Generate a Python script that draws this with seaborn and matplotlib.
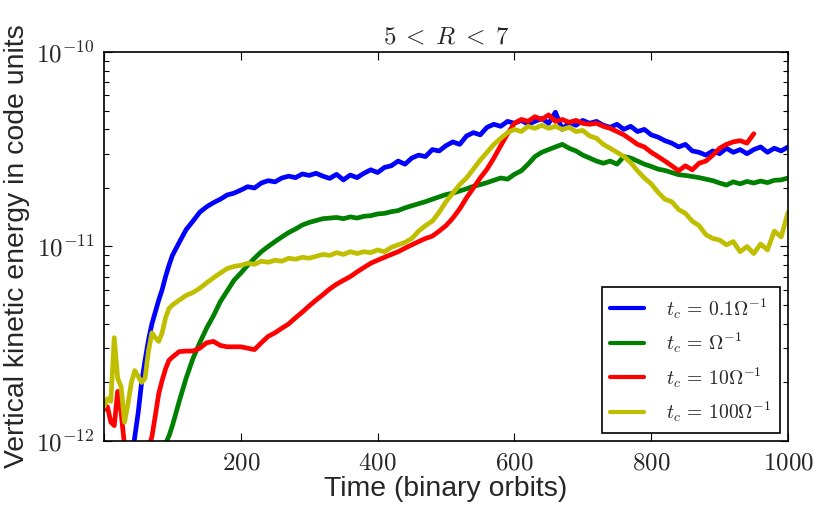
import numpy as np
import pandas as pd
import matplotlib
matplotlib.use("Agg")
import matplotlib.pyplot as plt
import matplotlib.ticker as mticker
import seaborn as sns

# time grid (binary orbits)
time = list(range(0, 100, 5)) + list(range(100, 1001, 10))

# vertical kinetic energy, in units of 1e-12 (code units)
blue_01 = [0.2, 0.22, 0.25, 0.28, 0.32, 0.38, 0.46, 0.6, 0.78, 1.05,
           1.4, 2.0, 2.6, 3.3, 4.0, 4.6, 5.3, 6.0, 7.0, 8.0,
           9.0, 10.5, 12.2, 13.5, 15.0, 16.0, 16.8, 17.5, 18.4, 18.8,
           19.5, 20.3, 20.0, 21.2, 21.8, 21.5, 22.5, 23.0, 22.6, 23.6,
           23.2, 23.8, 23.0, 22.4, 23.5, 22.0, 23.3, 22.6, 23.8, 24.8,
           24.0, 25.5, 26.0, 27.5, 26.5, 28.5, 29.5, 29.0, 31.5, 31.0,
           33.0, 34.5, 33.5, 37.0, 38.5, 37.5, 41.0, 42.5, 41.5, 44.0,
           43.0, 44.5, 42.5, 44.0, 45.5, 43.0, 49.0, 40.0, 43.5, 42.0,
           44.5, 43.0, 44.0, 42.0, 41.0, 42.5, 40.0, 41.5, 39.0, 40.0,
           37.5, 36.5, 35.0, 34.0, 32.5, 33.5, 31.0, 30.5, 29.5, 31.0,
           30.0, 32.0, 30.5, 31.5, 30.0, 31.5, 32.5, 30.5, 32.0, 31.0,
           32.5]
green_1 = [0.15, 0.17, 0.19, 0.21, 0.23, 0.26, 0.29, 0.32, 0.36, 0.4,
           0.45, 0.5, 0.56, 0.62, 0.69, 0.76, 0.83, 0.9, 0.97, 1.06,
           1.2, 1.6, 2.1, 2.65, 3.2, 3.8, 4.4, 5.2, 5.9, 6.7,
           7.3, 8.0, 8.7, 9.4, 10.0, 10.6, 11.2, 11.8, 12.3, 12.9,
           13.3, 13.6, 13.9, 14.0, 14.1, 13.9, 14.2, 14.0, 14.3, 14.4,
           14.7, 14.8, 15.1, 15.3, 15.8, 16.2, 16.6, 17.0, 17.5, 18.0,
           18.5, 18.8, 19.3, 19.8, 20.4, 20.8, 21.3, 21.9, 22.5, 22.2,
           23.5, 24.5, 26.5, 29.0, 30.5, 31.5, 32.5, 33.5, 32.0, 31.0,
           29.5, 28.5, 27.5, 26.8, 27.5, 26.5, 29.0, 28.5, 27.5, 26.5,
           25.8, 25.0, 24.6, 24.0, 23.4, 23.2, 22.9, 22.6, 22.2, 21.8,
           21.2, 20.7, 21.5, 21.0, 21.6, 21.2, 21.7, 21.3, 21.9, 22.0,
           22.5]
red_10 = [1.45, 1.5, 1.25, 1.2, 1.8, 1.4, 0.95, 0.8, 0.7, 0.65,
          0.65, 0.7, 0.8, 0.92, 1.05, 1.35, 1.75, 2.05, 2.35, 2.6,
          2.7, 2.88, 2.9, 2.9, 3.0, 3.2, 3.25, 3.1, 3.05, 3.05,
          3.05, 3.0, 2.95, 3.2, 3.45, 3.6, 3.8, 4.0, 4.3, 4.6,
          4.95, 5.3, 5.65, 6.05, 6.4, 6.7, 7.0, 7.4, 7.8, 8.2,
          8.5, 8.8, 9.1, 9.4, 9.8, 10.2, 10.6, 11.0, 11.3, 12.0,
          12.8, 14.0, 15.6, 17.8, 20.0, 22.5, 25.0, 28.5, 33.0, 38.0,
          43.0, 45.0, 44.0, 46.5, 45.0, 47.5, 44.0, 45.0, 43.5, 44.5,
          43.0, 42.5, 43.0, 41.5, 40.5, 39.0, 37.5, 35.5, 33.5, 32.5,
          30.5, 29.0, 27.5, 26.0, 24.5, 26.0, 24.8, 26.8, 27.5, 29.5,
          32.0, 33.5, 34.5, 35.0, 34.0, 38.0, np.nan, np.nan, np.nan, np.nan,
          np.nan]
yellow_100 = [1.5, 1.65, 1.6, 3.4, 2.1, 1.9, 1.25, 1.55, 2.0, 2.3,
              2.15, 2.0, 2.1, 2.9, 3.6, 3.4, 3.25, 3.6, 4.3, 4.8,
              5.0, 5.3, 5.6, 5.8, 6.1, 6.5, 6.9, 7.3, 7.7, 7.9,
              8.0, 8.2, 8.1, 8.4, 8.3, 8.5, 8.4, 8.7, 8.6, 8.8,
              8.7, 8.9, 9.1, 9.0, 9.3, 9.1, 9.4, 9.2, 9.4, 9.3,
              9.6, 9.4, 9.9, 10.2, 10.5, 11.0, 12.0, 12.8, 13.5, 15.0,
              17.0, 18.8, 20.8, 22.5, 25.0, 27.8, 30.5, 33.5, 36.0, 38.5,
              40.0, 39.0, 41.5, 40.5, 42.0, 40.5, 41.5, 40.0, 41.0, 39.0,
              39.5, 37.0, 36.0, 33.5, 32.0, 30.5, 29.0, 27.0, 24.5, 22.5,
              21.0, 19.0, 17.5, 17.0, 15.5, 14.8, 13.5, 12.8, 11.5, 11.0,
              10.8, 10.2, 10.6, 9.4, 10.0, 9.2, 10.3, 9.6, 12.0, 11.2,
              15.0]

labels = [r'$t_c \,=\, 0.1\Omega^{-1}$', r'$t_c \,=\, \Omega^{-1}$',
          r'$t_c \,=\, 10\Omega^{-1}$', r'$t_c \,=\, 100\Omega^{-1}$']
colors = ['#0000ff', '#008000', '#ff0000', '#bfbf00']
UNIT = 1e-12

frames = []
for lab, vals in zip(labels, [blue_01, green_1, red_10, yellow_100]):
    frames.append(pd.DataFrame({'time': time,
                                'energy': np.array(vals, dtype=float) * UNIT,
                                'run': lab}))
df = pd.concat(frames, ignore_index=True).dropna()

sns.set_style("ticks")
plt.rcParams['font.family'] = ['Liberation Sans', 'DejaVu Sans']
plt.rcParams['mathtext.fontset'] = 'cm'

fig = plt.figure(figsize=(8.3, 5.19), dpi=100)
ax = fig.add_axes([0.1253, 0.1503, 0.8241, 0.7495])

sns.lineplot(data=df, x='time', y='energy', hue='run', hue_order=labels,
             palette=dict(zip(labels, colors)), estimator=None, sort=False,
             linewidth=3.4, ax=ax)

ax.set_yscale('log')
ax.set_xlim(0, 1000)
ax.set_ylim(1e-12, 1e-10)

ax.xaxis.set_major_locator(mticker.FixedLocator([0, 200, 400, 600, 800, 1000]))
ax.xaxis.set_major_formatter(mticker.FuncFormatter(
    lambda v, p: '' if v == 0 else r'$%d$' % v))
ax.yaxis.set_major_locator(mticker.FixedLocator([1e-12, 1e-11, 1e-10]))
minor = [m * 10.0 ** e for e in (-12, -11) for m in range(2, 10)]
ax.yaxis.set_minor_locator(mticker.FixedLocator(minor))
ax.yaxis.set_major_formatter(mticker.FuncFormatter(
    lambda v, p: r'$10^{%d}$' % int(round(np.log10(v)))))
ax.yaxis.set_minor_formatter(mticker.NullFormatter())

ax.tick_params(which='both', direction='in', top=True, right=True,
               labelsize=18, color='black')
ax.tick_params(which='major', length=6, width=0.8, pad=7)
ax.tick_params(which='minor', length=3.5, width=0.8)
for s in ax.spines.values():
    s.set_color('black')
    s.set_linewidth(1.2)

ax.set_xlabel('Time (binary orbits)', fontsize=20.4, labelpad=1)
ax.set_ylabel('Vertical kinetic energy in code units', fontsize=20.4, labelpad=4)
ax.set_title(r'$5 \;<\; R \;<\; 7$', fontsize=18, pad=6)

leg = ax.legend(loc='lower right', fontsize=14.2, frameon=True, fancybox=False,
                edgecolor='black', framealpha=1, handlelength=1.7,
                borderpad=0.45, labelspacing=0.5, handletextpad=1.1,
                borderaxespad=0.4)
leg.get_frame().set_linewidth(1.2)
for line in leg.get_lines():
    line.set_linewidth(3)

fig.savefig('out.png', dpi=100)
